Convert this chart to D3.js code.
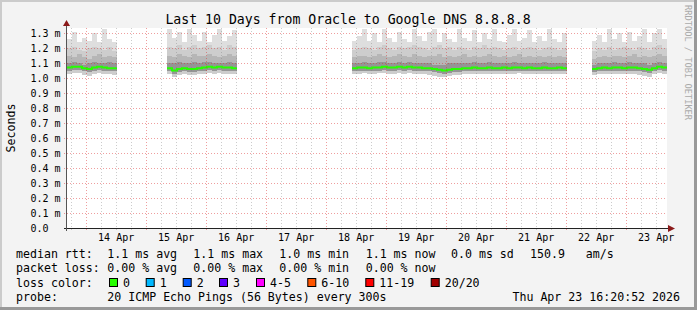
<!DOCTYPE html>
<html>
<head>
<meta charset="utf-8">
<script src="https://cdn.jsdelivr.net/npm/d3@7"></script>
<style>
  body { margin: 0; background: #f3f3f3; }
  svg { display: block; font-family: "DejaVu Sans Mono", monospace; }
</style>
</head>
<body>
<svg id="chart" width="697" height="310"></svg>
<script>
// chart data (values in ms)
const title = "Last 10 Days from Oracle to Google DNS 8.8.8.8";
const startTime = new Date(2026, 3, 13, 16, 20);
const endTime = new Date(2026, 3, 23, 16, 20);
const stepHours = 2;
// each segment of collected data starts at these times
const segmentStart = [
  new Date(2026, 3, 13, 16, 20),
  new Date(2026, 3, 15, 8, 20),
  new Date(2026, 3, 18, 10, 20),
  new Date(2026, 3, 22, 10, 20)
];

const median = [
  [1.07,1.075,1.075,1.065,1.06,1.07,1.075,1.07,1.065,1.065],
  [1.065,1.05,1.06,1.065,1.06,1.06,1.065,1.07,1.075,1.07,1.075,1.07,1.07,1.065],
  [1.065,1.07,1.07,1.065,1.07,1.07,1.075,1.07,1.07,1.075,
   1.07,1.075,1.07,1.07,1.065,1.065,1.06,1.055,1.05,1.055,
   1.06,1.06,1.065,1.065,1.07,1.065,1.065,1.07,1.065,1.065,
   1.07,1.065,1.07,1.07,1.065,1.07,1.065,1.065,1.07,1.065,
   1.065,1.07,1.065],
  [1.06,1.065,1.07,1.065,1.07,1.07,1.065,1.07,1.07,1.065,1.06,1.055,1.065,1.075,1.07]
];
const pingMax = [
  [1.26,1.31,1.24,1.27,1.25,1.30,1.24,1.33,1.26,1.24],
  [1.33,1.27,1.31,1.24,1.33,1.29,1.25,1.31,1.24,1.29,1.33,1.25,1.28,1.32],
  [1.25,1.28,1.33,1.25,1.30,1.24,1.33,1.27,1.24,1.31,
   1.26,1.24,1.33,1.28,1.25,1.31,1.33,1.24,1.30,1.26,
   1.24,1.33,1.27,1.25,1.32,1.24,1.30,1.26,1.33,1.25,
   1.24,1.29,1.33,1.25,1.27,1.32,1.24,1.28,1.25,1.33,
   1.26,1.24,1.30],
  [1.25,1.29,1.24,1.33,1.26,1.30,1.24,1.31,1.25,1.28,1.33,1.24,1.30,1.33,1.26]
];
const upper3 = [
  [1.20,1.21,1.19,1.18,1.20,1.21,1.20,1.19,1.21,1.18],
  [1.21,1.20,1.22,1.19,1.21,1.22,1.20,1.21,1.22,1.20,1.21,1.19,1.22,1.21],
  [1.19,1.20,1.21,1.20,1.19,1.21,1.22,1.20,1.19,1.21,
   1.20,1.21,1.22,1.21,1.20,1.19,1.21,1.22,1.20,1.21,
   1.19,1.21,1.20,1.19,1.21,1.20,1.22,1.20,1.21,1.20,
   1.19,1.20,1.21,1.19,1.20,1.21,1.20,1.19,1.20,1.21,
   1.20,1.19,1.20],
  [1.18,1.20,1.19,1.21,1.19,1.20,1.21,1.20,1.19,1.21,1.20,1.19,1.21,1.22,1.20]
];
const upper2 = [
  [1.15,1.14,1.16,1.14,1.13,1.15,1.16,1.14,1.15,1.14],
  [1.15,1.14,1.16,1.15,1.14,1.16,1.15,1.15,1.16,1.15,1.14,1.15,1.16,1.15],
  [1.14,1.15,1.15,1.14,1.15,1.16,1.15,1.14,1.15,1.16,
   1.15,1.14,1.16,1.15,1.14,1.15,1.15,1.16,1.14,1.15,
   1.14,1.15,1.16,1.14,1.15,1.14,1.15,1.16,1.15,1.14,
   1.15,1.14,1.15,1.16,1.14,1.15,1.14,1.15,1.14,1.15,
   1.14,1.15,1.14],
  [1.13,1.14,1.15,1.14,1.15,1.15,1.14,1.15,1.16,1.14,1.15,1.14,1.15,1.16,1.15]
];
const upper1 = [
  [1.10,1.11,1.10,1.09,1.10,1.11,1.10,1.10,1.11,1.10],
  [1.10,1.10,1.11,1.10,1.10,1.11,1.10,1.11,1.11,1.10,1.10,1.10,1.11,1.10],
  [1.10,1.10,1.11,1.10,1.10,1.11,1.11,1.10,1.10,1.11,
   1.10,1.11,1.10,1.10,1.10,1.10,1.09,1.09,1.09,1.10,
   1.10,1.10,1.10,1.10,1.11,1.10,1.10,1.11,1.10,1.10,
   1.10,1.10,1.11,1.10,1.10,1.10,1.10,1.10,1.11,1.10,
   1.10,1.10,1.10],
  [1.09,1.10,1.10,1.10,1.11,1.10,1.10,1.11,1.10,1.10,1.10,1.09,1.10,1.11,1.10]
];
const lower2 = [
  [1.05,1.055,1.055,1.045,1.04,1.05,1.055,1.05,1.045,1.045],
  [1.045,1.03,1.04,1.045,1.04,1.04,1.045,1.05,1.055,1.05,1.055,1.05,1.05,1.045],
  [1.045,1.05,1.05,1.045,1.05,1.05,1.055,1.05,1.05,1.055,
   1.05,1.055,1.05,1.05,1.045,1.045,1.04,1.035,1.03,1.035,
   1.04,1.04,1.045,1.045,1.05,1.045,1.045,1.05,1.045,1.045,
   1.05,1.045,1.05,1.05,1.045,1.05,1.045,1.045,1.05,1.045,
   1.045,1.05,1.045],
  [1.04,1.045,1.05,1.045,1.05,1.05,1.045,1.05,1.05,1.045,1.04,1.035,1.045,1.055,1.05]
];
const pingMin = [
  [1.03,1.035,1.035,1.02,1.015,1.03,1.035,1.03,1.025,1.02],
  [1.025,1.01,1.02,1.03,1.02,1.02,1.03,1.03,1.035,1.03,1.035,1.03,1.03,1.025],
  [1.03,1.03,1.035,1.025,1.03,1.035,1.035,1.03,1.03,1.035,
   1.03,1.035,1.03,1.025,1.025,1.02,1.015,1.01,1.005,1.015,
   1.02,1.02,1.025,1.03,1.03,1.025,1.025,1.03,1.025,1.03,
   1.03,1.025,1.03,1.035,1.025,1.03,1.025,1.03,1.03,1.025,
   1.025,1.03,1.025],
  [1.02,1.025,1.03,1.025,1.03,1.03,1.025,1.03,1.03,1.02,1.015,1.01,1.025,1.035,1.03]
];

const lossLabels = ["0", "1", "2", "3", "4-5", "6-10", "11-19", "20/20"];
const lossColors = ["#26ff00", "#00b8ff", "#0059ff", "#5e00ff", "#ff00ff", "#ff5500", "#ff0000", "#a10000"];

const legendRows = [
  ["median rtt:", "1.1 ms avg", "1.1 ms max", "1.0 ms min", "1.1 ms now", "0.0 ms sd", "150.9", "am/s"],
  ["packet loss:", "0.00 % avg", "0.00 % max", "0.00 % min", "0.00 % now"]
];
const probeText = "20 ICMP Echo Pings (56 Bytes) every 300s";
const dateText = "Thu Apr 23 16:20:52 2026";

// layout
const W = 697, H = 310;
const plot = { left: 67, right: 667, top: 28, bottom: 228 };

const svg = d3.select("#chart");

// background + 3d frame
svg.append("rect").attr("width", W).attr("height", H).attr("fill", "#f3f3f3");
svg.append("rect").attr("x", 0).attr("y", 0).attr("width", W).attr("height", 2).attr("fill", "#cbcbcb");
svg.append("rect").attr("x", 0).attr("y", 0).attr("width", 2).attr("height", H).attr("fill", "#cbcbcb");
svg.append("rect").attr("x", 0).attr("y", H - 3).attr("width", W).attr("height", 3).attr("fill", "#999");
svg.append("rect").attr("x", W - 3).attr("y", 0).attr("width", 3).attr("height", H).attr("fill", "#999");

svg.append("rect")
  .attr("x", plot.left).attr("y", plot.top)
  .attr("width", plot.right - plot.left).attr("height", plot.bottom - plot.top)
  .attr("fill", "#fff");

const x = d3.scaleTime().domain([startTime, endTime]).range([plot.left, plot.right]);
const y = d3.scaleLinear().domain([0, 4 / 3]).range([plot.bottom, plot.top]);

svg.append("clipPath").attr("id", "clip")
  .append("rect")
  .attr("x", plot.left).attr("y", plot.top)
  .attr("width", plot.right - plot.left).attr("height", plot.bottom - plot.top);

// build one row per 2h column
const cols = [];
segmentStart.forEach((s, si) => {
  median[si].forEach((m, j) => {
    const t0 = d3.timeHour.offset(s, j * stepHours);
    cols.push({
      seg: si, t0: t0, t1: d3.timeHour.offset(t0, stepHours),
      med: m, max: pingMax[si][j], u3: upper3[si][j], u2: upper2[si][j],
      u1: upper1[si][j], l2: lower2[si][j], min: pingMin[si][j]
    });
  });
});

const bands = [
  { lo: "min", hi: "max", color: "#dedede" },
  { lo: "min", hi: "u3", color: "#cdcdcd" },
  { lo: "l2", hi: "u2", color: "#b6b6b6" },
  { lo: "l2", hi: "u1", color: "#959595" }
];

const smoke = svg.append("g").attr("clip-path", "url(#clip)").attr("shape-rendering", "crispEdges");
bands.forEach(b => {
  smoke.append("g").selectAll("rect")
    .data(cols)
    .join("rect")
    .attr("x", d => x(d.t0))
    .attr("width", d => x(d.t1) - x(d.t0))
    .attr("y", d => y(d[b.hi]))
    .attr("height", d => y(d[b.lo]) - y(d[b.hi]))
    .attr("fill", b.color);
});

// median line, step shaped, broken at gaps
const line = d3.line().x(d => x(d[0])).y(d => y(d[1]));
segmentStart.forEach((s, si) => {
  const pts = [];
  cols.filter(c => c.seg === si).forEach(c => { pts.push([c.t0, c.med]); pts.push([c.t1, c.med]); });
  svg.append("path")
    .attr("d", line(pts))
    .attr("fill", "none")
    .attr("stroke", "#26ff00")
    .attr("stroke-width", 2);
});

// grid
const grid = svg.append("g").attr("fill", "none").attr("stroke-dasharray", "1,2");
const majorX = d3.timeDay.range(startTime, endTime);
const minorX = d3.timeHour.every(6).range(startTime, endTime).filter(d => d.getHours() !== 0);
grid.selectAll(".minx").data(minorX).join("line")
  .attr("x1", d => Math.round(x(d)) + 0.5).attr("x2", d => Math.round(x(d)) + 0.5)
  .attr("y1", plot.top).attr("y2", plot.bottom + 2)
  .attr("stroke", "rgba(128,128,128,0.4)");
grid.selectAll(".majx").data(majorX).join("line")
  .attr("x1", d => Math.round(x(d)) + 0.5).attr("x2", d => Math.round(x(d)) + 0.5)
  .attr("y1", plot.top).attr("y2", plot.bottom + 2)
  .attr("stroke", "rgba(220,40,40,0.45)");
const yTicks = y.ticks(13);
grid.selectAll(".majy").data(yTicks.filter(v => v > 0)).join("line")
  .attr("x1", plot.left - 3).attr("x2", plot.right)
  .attr("y1", d => Math.round(y(d)) + 0.5).attr("y2", d => Math.round(y(d)) + 0.5)
  .attr("stroke", "rgba(220,40,40,0.45)");

// y labels
svg.append("g").selectAll("text").data(yTicks).join("text")
  .attr("x", 30.5).attr("y", d => y(d) + 3.7)
  .attr("font-size", 10).attr("fill", "#000")
  .text(d => d === 0 ? "0.0" : d3.format(".1f")(d) + " m");

// x labels at noon
const labelDays = d3.timeDay.range(d3.timeDay.ceil(startTime), endTime);
svg.append("g").selectAll("text").data(labelDays).join("text")
  .attr("x", d => x(d3.timeHour.offset(d, 12)))
  .attr("y", 241)
  .attr("text-anchor", "middle")
  .attr("font-size", 10)
  .text(d3.timeFormat("%d %b"));

// axes + arrows
svg.append("line").attr("x1", plot.left - 3).attr("x2", plot.right + 3)
  .attr("y1", plot.bottom + 0.5).attr("y2", plot.bottom + 0.5).attr("stroke", "#222");
svg.append("line").attr("x1", plot.left - 0.5).attr("x2", plot.left - 0.5)
  .attr("y1", plot.bottom + 3).attr("y2", plot.top - 2).attr("stroke", "#555");
svg.append("path").attr("d", `M${plot.left - 4},26 L${plot.left + 3},26 L${plot.left - 0.5},20 Z`).attr("fill", "#8b1a1a");
svg.append("path").attr("d", `M${plot.right + 1},225 L${plot.right + 1},232 L${plot.right + 8},228.5 Z`).attr("fill", "#8b1a1a");

// titles
svg.append("text").attr("x", 348).attr("y", 24).attr("text-anchor", "middle")
  .attr("font-size", 13.2).text(title);
svg.append("text").attr("transform", "translate(15,128) rotate(-90)")
  .attr("text-anchor", "middle").attr("font-size", 11.6).text("Seconds");
svg.append("text").attr("transform", "translate(685,5) rotate(90)")
  .attr("font-size", 8.7).attr("fill", "#aaa").text("RRDTOOL / TOBI OETIKER");

// legend
const legendX = [16, 107.3, 193.3, 279.3, 365.7, 451, 530, 585.7];
legendRows.forEach((row, ri) => {
  svg.append("g").selectAll("text").data(row).join("text")
    .attr("x", (d, i) => legendX[i]).attr("y", 258 + ri * 14.3)
    .attr("font-size", 11.6).text(d => d);
});
const lossRowY = 286.6;
svg.append("text").attr("x", 16).attr("y", lossRowY).attr("font-size", 11.6).text("loss color:");
const lossBoxX = [109, 145.7, 182.7, 219, 256, 307.3, 365.3, 430.7];
const lossG = svg.append("g").selectAll("g").data(lossLabels).join("g");
lossG.append("rect")
  .attr("x", (d, i) => lossBoxX[i] + 0.5).attr("y", 278.5)
  .attr("width", 8).attr("height", 8)
  .attr("fill", (d, i) => lossColors[i]).attr("stroke", "#000");
lossG.append("text")
  .attr("x", (d, i) => lossBoxX[i] + 14).attr("y", lossRowY)
  .attr("font-size", 11.6).text(d => d);

svg.append("text").attr("x", 16).attr("y", 300.9).attr("font-size", 11.6).text("probe:");
svg.append("text").attr("x", 107.3).attr("y", 300.9).attr("font-size", 11.6).text(probeText);
svg.append("text").attr("x", 680).attr("y", 300.9).attr("text-anchor", "end").attr("font-size", 11.6).text(dateText);
</script>
</body>
</html>
